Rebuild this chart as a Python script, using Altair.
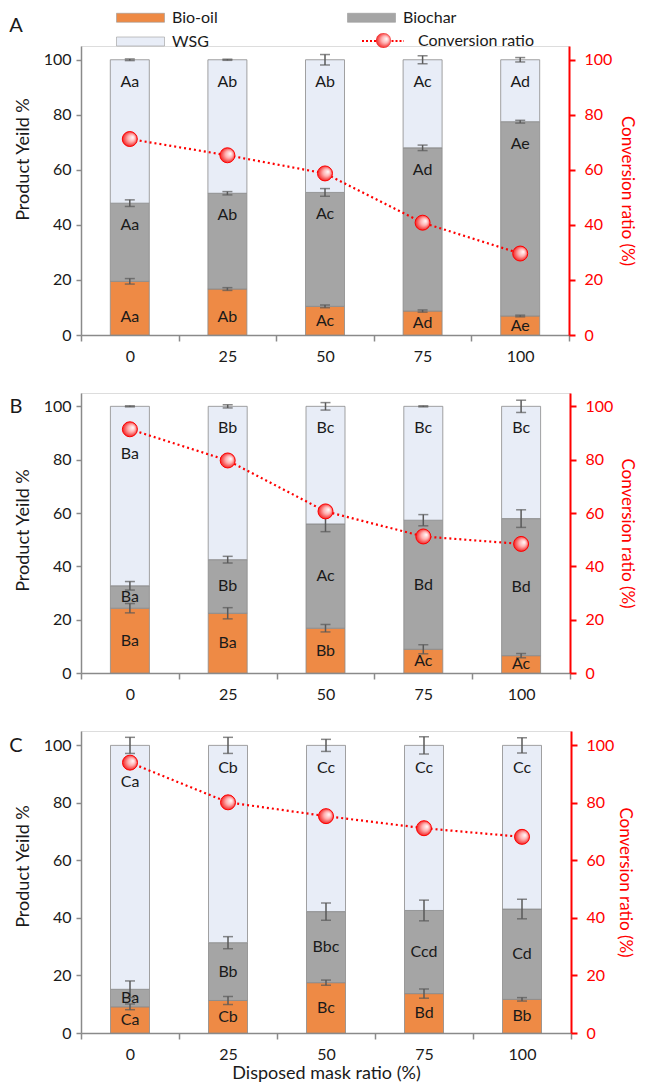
import altair as alt
import pandas as pd

# ---------------- data ----------------
categories = ["0", "25", "50", "75", "100"]
series = ["Bio-oil", "Biochar", "WSG"]
legend_order = ["Bio-oil", "WSG", "Biochar"]  # column-major fill of a 2-column legend
panels = ["A", "B", "C"]

biooil = {"A": [19.5, 16.7, 10.4, 8.7, 6.9],
          "B": [24.3, 22.4, 16.8, 8.9, 6.5],
          "C": [9.1, 11.3, 17.5, 13.7, 11.7]}
biochar = {"A": [28.4, 34.8, 41.4, 59.3, 70.6],
           "B": [8.4, 20.1, 39.1, 48.4, 51.4],
           "C": [6.1, 20.1, 24.7, 28.9, 31.4]}
wsg = {"A": [52.1, 48.5, 48.2, 32.0, 22.5],
       "B": [67.3, 57.5, 44.1, 42.7, 42.1],
       "C": [84.8, 68.6, 57.8, 57.4, 56.9]}

err_biooil = {"A": [1.0, 0.5, 0.5, 0.4, 0.3],
              "B": [1.75, 2.1, 1.4, 1.7, 0.8],
              "C": [1.0, 1.4, 0.9, 1.6, 0.6]}
err_biochar = {"A": [1.2, 0.6, 1.4, 1.0, 0.5],
               "B": [1.6, 1.25, 2.9, 2.1, 3.3],
               "C": [2.9, 2.1, 3.0, 3.6, 3.4]}
err_wsg = {"A": [0.3, 0.2, 1.9, 1.45, 0.8],
           "B": [0.2, 0.6, 1.4, 0.2, 2.3],
           "C": [2.8, 2.8, 2.1, 3.0, 2.65]}

lab_biooil = {"A": ["Aa", "Ab", "Ac", "Ad", "Ae"],
              "B": ["Ba", "Ba", "Bb", "Ac", "Ac"],
              "C": ["Ca", "Cb", "Bc", "Bd", "Bb"]}
lab_biochar = {"A": ["Aa", "Ab", "Ac", "Ad", "Ae"],
               "B": ["Ba", "Bb", "Ac", "Bd", "Bd"],
               "C": ["Ba", "Bb", "Bbc", "Ccd", "Cd"]}
lab_wsg = {"A": ["Aa", "Ab", "Ab", "Ac", "Ad"],
           "B": ["Ba", "Bb", "Bc", "Bc", "Bc"],
           "C": ["Ca", "Cb", "Cc", "Cc", "Cc"]}

conversion = {"A": [71.2, 65.3, 58.7, 40.8, 29.6],
              "B": [91.4, 79.7, 60.6, 51.2, 48.4],
              "C": [94.0, 80.2, 75.4, 71.2, 68.2]}

# ---------------- style ----------------
FONT = "Lato"
FILL_COLORS = ["#EE8A45", "#A5A5A5", "#E8EDF7"]
GRAY = "#8a8a8a"
RED = "#FF0000"
TXT = "#1a1a1a"
label_mode = {"A": {"Bio-oil": "base", "Biochar": "end", "WSG": "end"},
              "B": {"Bio-oil": "center", "Biochar": "center", "WSG": "end"},
              "C": {"Bio-oil": "center", "Biochar": "center", "WSG": "end"}}
label_nudge = {("B", "WSG", "0"): -10.0, ("C", "WSG", "0"): -4.6}

panel_layout = {
    "A": dict(width=488, height=289, title_y=113, letter_y=-20, rpad=6),
    "B": dict(width=489, height=280, title_y=137, letter_y=14, rpad=5),
    "C": dict(width=490, height=302, title_y=135, letter_y=15, rpad=2),
}

# legend symbols: unit = sqrt(256)/2 = 8 px
SYM_RECT = "M-1,-0.5625H5V0.5625H-1Z"
SYM_LINE = "M-1,0H0.81M2.69,0H4.25"
SYM_CIRC = "M2.69,0A0.94,0.94,0,1,1,0.81,0A0.94,0.94,0,1,1,2.69,0Z"


def seg_table(p):
    rows = []
    for i, c in enumerate(categories):
        start = 0.0
        for s, vals, errs, labs in [("Bio-oil", biooil, err_biooil, lab_biooil),
                                    ("Biochar", biochar, err_biochar, lab_biochar),
                                    ("WSG", wsg, err_wsg, lab_wsg)]:
            v = vals[p][i]
            e = errs[p][i]
            end = start + v
            mode = label_mode[p][s]
            mid = (start + end) / 2
            if mode == "center":
                ly = mid
            elif mode == "base":
                ly = min(mid, start + 6.5)
            else:
                ly = end - 8.0
            ly += label_nudge.get((p, s, c), 0.0)
            rows.append(dict(cat=c, series=s, start=start, end=end,
                             lo=end - e, hi=end + e, lab=labs[p][i], ly=ly))
            start = end
    return pd.DataFrame(rows)


def build_panel(p, first, last):
    lay = panel_layout[p]
    df = seg_table(p)
    conv_df = pd.DataFrame({"cat": categories, "conv": conversion[p],
                            "name": ["Conversion ratio"] * 5,
                            "name2": ["Conversion ratio"] * 5})

    xaxis = alt.Axis(title="Disposed mask ratio (%)" if last else None,
                     labelAngle=0, tickBand="extent", domainColor=GRAY,
                     domainWidth=1.5, tickColor=GRAY, tickWidth=1.5, tickSize=6,
                     labelPadding=7, labelFontSize=16, labelColor=TXT,
                     titleFontSize=18, titleFontWeight="normal", titlePadding=2,
                     titleColor=TXT)
    x = alt.X("cat:N", sort=categories,
              scale=alt.Scale(paddingInner=0, paddingOuter=0), axis=xaxis)

    yscale = alt.Scale(domain=[0, 105], nice=False)
    yaxis = alt.Axis(values=[0, 20, 40, 60, 80, 100], title="Product Yeild %",
                     titleY=lay["title_y"], domainColor=GRAY, domainWidth=1.5,
                     tickColor=GRAY, tickWidth=1.5, tickSize=5, labelPadding=5,
                     labelFontSize=16, labelColor=TXT, titleFontSize=18,
                     titleFontWeight="normal", titleColor=TXT,
                     titlePadding=11, grid=False)

    fill_legend = alt.Legend(orient="none", legendX=35, legendY=-37, columns=2,
                             columnPadding=128, rowPadding=7, title=None,
                             values=legend_order,
                             symbolType=SYM_RECT, symbolSize=256, labelOffset=39,
                             symbolStrokeColor="#9a9a9a", symbolStrokeWidth=0.6,
                             labelFontSize=16, labelFont=FONT,
                             labelColor=TXT) if first else None

    base = alt.Chart(df)
    bars = base.mark_bar(size=39, stroke=GRAY, strokeWidth=0.8).encode(
        x=x,
        y=alt.Y("start:Q", scale=yscale, axis=yaxis),
        y2="end:Q",
        fill=alt.Fill("series:N", scale=alt.Scale(domain=series, range=FILL_COLORS),
                      legend=fill_legend),
    )
    err_rule = base.mark_rule(color="#595959", strokeWidth=1.5).encode(
        x=x, y=alt.Y("lo:Q", scale=yscale, axis=yaxis), y2="hi:Q")
    tick_lo = base.mark_tick(color="#595959", size=10, thickness=1.5).encode(
        x=x, y=alt.Y("lo:Q", scale=yscale, axis=yaxis))
    tick_hi = base.mark_tick(color="#595959", size=10, thickness=1.5).encode(
        x=x, y=alt.Y("hi:Q", scale=yscale, axis=yaxis))
    labels = base.mark_text(fontSize=16, font=FONT, color=TXT,
                            baseline="middle").encode(
        x=x, y=alt.Y("ly:Q", scale=yscale, axis=yaxis), text="lab:N")
    letter = alt.Chart(pd.DataFrame({"t": [p]})).mark_text(
        fontSize=20, font=FONT, color=TXT, align="center",
        baseline="middle").encode(
        text="t:N", x=alt.value(-65), y=alt.value(lay["letter_y"]))

    left = alt.layer(bars, err_rule, tick_lo, tick_hi, labels, letter)

    raxis = alt.Axis(orient="right", values=[0, 20, 40, 60, 80, 100],
                     title="Conversion ratio (%)", domainColor=RED, domainWidth=2,
                     tickColor=RED, tickWidth=2, tickSize=6, labelPadding=9,
                     labelFontSize=16, labelColor=RED, titleColor=RED,
                     titleFontSize=17, titleFontWeight="normal",
                     titlePadding=lay["rpad"], grid=False)
    line_legend = alt.Legend(orient="none", legendX=280, legendY=-14, title=None,
                             symbolType=SYM_LINE, symbolSize=256, labelOffset=39,
                             symbolStrokeWidth=2, symbolDash=[2, 2],
                             symbolStrokeColor=RED, labelFontSize=16,
                             labelFont=FONT, labelColor=TXT) if first else None
    circ_legend = alt.Legend(orient="none", legendX=280, legendY=-14, title=None,
                             symbolType=SYM_CIRC, symbolSize=256, labelOffset=39,
                             symbolFillColor="#FFA0A0", symbolStrokeColor=RED,
                             symbolStrokeWidth=1, labelFontSize=16,
                             labelFont=FONT, labelOpacity=0) if first else None

    grad = alt.RadialGradient(
        gradient="radial",
        stops=[alt.GradientStop(offset=0, color="#FFFFFF"),
               alt.GradientStop(offset=0.45, color="#FFB0B0"),
               alt.GradientStop(offset=1, color="#F01010")],
        x1=0.72, y1=0.38, r1=0.0, x2=0.5, y2=0.5, r2=0.55)

    cbase = alt.Chart(conv_df)
    ry = alt.Y("conv:Q", scale=yscale, axis=raxis)
    line = cbase.mark_line(strokeDash=[2, 3], strokeWidth=2.2).encode(
        x=x, y=ry,
        stroke=alt.Stroke("name:N", scale=alt.Scale(domain=["Conversion ratio"], range=[RED]),
                          legend=line_legend))
    pts = cbase.mark_point(filled=True, fill=grad, stroke=RED, strokeWidth=1,
                           size=225, shape="circle").encode(
        x=x, y=ry,
        opacity=alt.Opacity("name2:N", scale=alt.Scale(range=[1.0]),
                            legend=circ_legend))
    right = alt.layer(line, pts)

    return alt.layer(left, right).resolve_scale(y="independent").properties(
        width=lay["width"], height=lay["height"])


chart = alt.vconcat(
    build_panel("A", True, False),
    build_panel("B", False, False),
    build_panel("C", False, True),
    spacing=27,
).resolve_legend(fill="independent", stroke="independent", opacity="independent"
).properties(padding={"left": 0, "top": 0, "right": 5, "bottom": 0}
).configure_view(stroke=GRAY, strokeWidth=1.5
).configure(font=FONT)

chart.save("out.html", embed_options={"renderer": "svg", "actions": False})
